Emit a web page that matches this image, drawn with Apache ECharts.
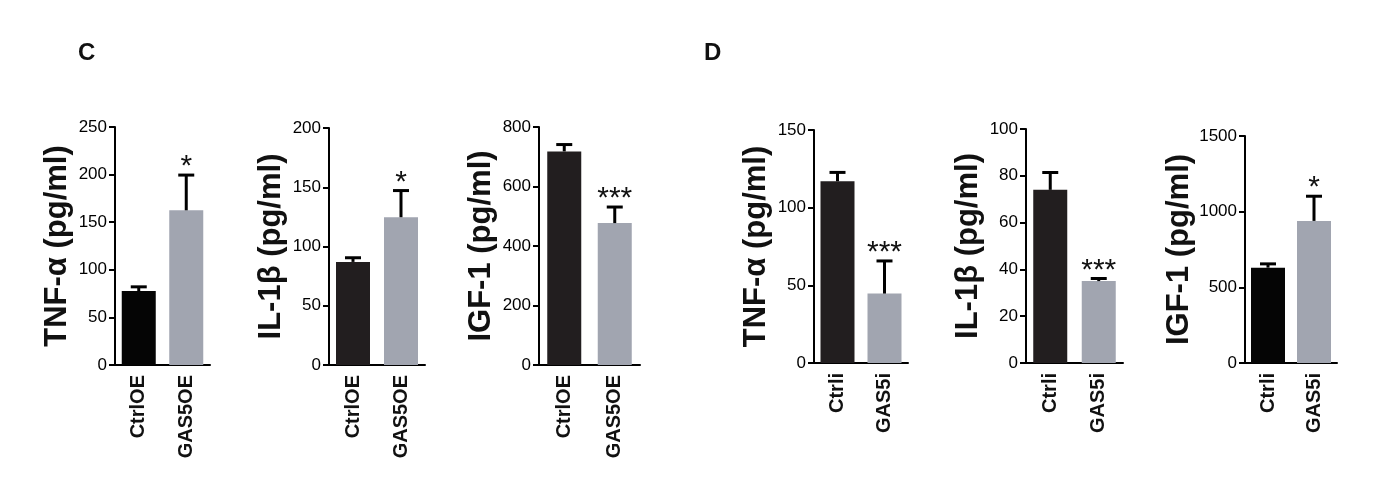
<!DOCTYPE html>
<html>
<head>
<meta charset="utf-8">
<script src="https://cdn.jsdelivr.net/npm/echarts@6/dist/echarts.min.js"></script>
<style>
html,body{margin:0;padding:0;background:#fff;}
#chart{width:1397px;height:485px;}
</style>
</head>
<body>
<div id="chart"></div>
<script>
// ---- data ----
const catsC = ['CtrlOE', 'GAS5OE'];
const catsD = ['Ctrli', 'GAS5i'];

const titles = ['TNF-α (pg/ml)', 'IL-1β (pg/ml)', 'IGF-1 (pg/ml)', 'TNF-α (pg/ml)', 'IL-1β (pg/ml)', 'IGF-1 (pg/ml)'];

const tnfC_mean = [77.6, 162.5];
const tnfC_err = [4.5, 37];
const il1bC_mean = [87, 124.7];
const il1bC_err = [3.5, 22.5];
const igfC_mean = [718, 477];
const igfC_err = [23, 54];

const tnfD_mean = [117, 44.7];
const tnfD_err = [5.7, 21];
const il1bD_mean = [74, 35];
const il1bD_err = [7.4, 1.1];
const igfD_mean = [630, 939];
const igfD_err = [25, 163];

const stars1 = ['', '*'];
const stars2 = ['', '*'];
const stars3 = ['', '***'];
const stars4 = ['', '***'];
const stars5 = ['', '***'];
const stars6 = ['', '*'];

const yMax = [250, 200, 800, 150, 100, 1500];
const yStep = [50, 50, 200, 50, 20, 500];

// ---- layout / style ----
const FONT = '"Liberation Sans", Arial, Helvetica, sans-serif';
const panels = [
  {cats: catsC, mean: tnfC_mean, err: tnfC_err, stars: stars1, left: 115, top: 127, width: 95, height: 238, dark: '#050505'},
  {cats: catsC, mean: il1bC_mean, err: il1bC_err, stars: stars2, left: 329, top: 128, width: 96, height: 237, dark: '#221e1f'},
  {cats: catsC, mean: igfC_mean, err: igfC_err, stars: stars3, left: 539, top: 127, width: 101, height: 238, dark: '#221e1f'},
  {cats: catsD, mean: tnfD_mean, err: tnfD_err, stars: stars4, left: 814, top: 130, width: 94, height: 233, dark: '#221e1f'},
  {cats: catsD, mean: il1bD_mean, err: il1bD_err, stars: stars5, left: 1026, top: 129, width: 97, height: 234, dark: '#221e1f'},
  {cats: catsD, mean: igfD_mean, err: igfD_err, stars: stars6, left: 1245, top: 136, width: 92, height: 227, dark: '#050505'}
];
const GRAY = '#a1a5b0';

const grid = [], xAxis = [], yAxis = [], series = [];
panels.forEach((p, i) => {
  grid.push({left: p.left, top: p.top, width: p.width, height: p.height, containLabel: false});
  xAxis.push({
    type: 'category', gridIndex: i, data: p.cats,
    axisLine: {lineStyle: {color: '#000', width: 2}},
    axisTick: {alignWithLabel: true, length: 8, lineStyle: {color: '#000', width: 2}},
    axisLabel: {rotate: 90, margin: 10, fontFamily: FONT, fontSize: 20, fontWeight: 'bold', color: '#111'},
    splitLine: {show: false}
  });
  yAxis.push({
    type: 'value', gridIndex: i, min: 0, max: yMax[i], interval: yStep[i],
    name: titles[i], nameLocation: 'middle', nameGap: 42, nameRotate: 90,
    nameTextStyle: {fontFamily: FONT, fontSize: 31, fontWeight: 'bold', color: '#111'},
    axisLine: {show: true, lineStyle: {color: '#000', width: 2}},
    axisTick: {show: true, length: 6, lineStyle: {color: '#000', width: 2}},
    axisLabel: {margin: 8, fontFamily: FONT, fontSize: 17, color: '#000', formatter: v => String(v)},
    splitLine: {show: false}
  });
  series.push({
    type: 'bar', xAxisIndex: i, yAxisIndex: i, barWidth: 34,
    data: p.mean.map((v, k) => ({value: v, itemStyle: {color: k === 0 ? p.dark : GRAY}})),
    silent: true, animation: false
  });
  series.push({
    type: 'custom', xAxisIndex: i, yAxisIndex: i, silent: true, animation: false, z: 5,
    data: p.mean.map((v, k) => [k, v, p.err[k]]),
    renderItem: function (params, api) {
      const x = api.value(0), m = api.value(1), e = api.value(2);
      const p0 = api.coord([x, m]);
      const p1 = api.coord([x, m + e]);
      const hw = 8;
      const star = p.stars[params.dataIndex];
      const children = [
        {type: 'line', shape: {x1: p0[0], y1: p0[1], x2: p1[0], y2: p1[1]}, style: {stroke: '#000', lineWidth: 3}},
        {type: 'line', shape: {x1: p1[0] - hw, y1: p1[1], x2: p1[0] + hw, y2: p1[1]}, style: {stroke: '#000', lineWidth: 3}}
      ];
      if (star) {
        children.push({type: 'text', x: p1[0], y: p1[1] - 8,
          style: {text: star, fontFamily: FONT, fontSize: 30, fill: '#111', align: 'center', verticalAlign: 'middle'}});
      }
      return {type: 'group', children: children};
    }
  });
});

const chart = echarts.init(document.getElementById('chart'), null, {renderer: 'canvas'});
chart.setOption({
  animation: false,
  backgroundColor: '#fff',
  grid: grid, xAxis: xAxis, yAxis: yAxis, series: series,
  graphic: [
    {type: 'text', left: 78, top: 41, style: {text: 'C', fontFamily: FONT, fontSize: 24, fontWeight: 'bold', fill: '#111'}},
    {type: 'text', left: 704, top: 41, style: {text: 'D', fontFamily: FONT, fontSize: 24, fontWeight: 'bold', fill: '#111'}}
  ]
});
</script>
</body>
</html>
